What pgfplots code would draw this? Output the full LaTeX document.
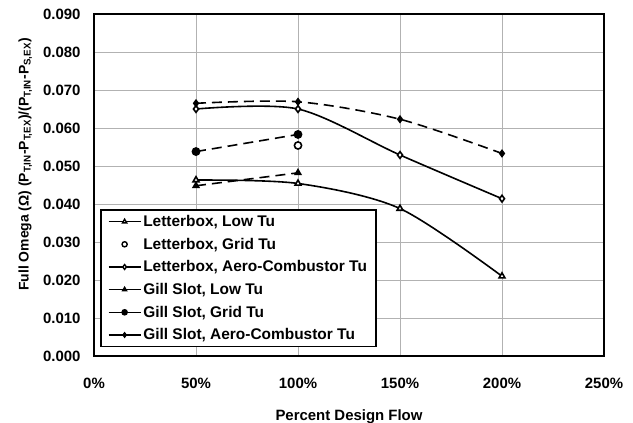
\documentclass[border=0pt]{standalone}
\usepackage{pgfplots}
\pgfplotsset{compat=1.18}
\usepackage{fontspec}
\setmainfont{Liberation Sans}

\begin{document}
\begin{tikzpicture}[font=\fontsize{15}{18}\selectfont\bfseries]
\path[use as bounding box] (-94bp,-67bp) rectangle (539bp,356bp);
\begin{axis}[
  scale only axis,
  width=510bp, height=342bp,
  xmin=0, xmax=250, ymin=0, ymax=0.09,
  xtick={0,50,...,250},
  ytick={0,0.01,...,0.09},
  scaled y ticks=false,
  grid=major,
  major grid style={draw=black!30, line width=0.8bp},
  axis line style={line width=1.6bp},
  tick style={draw=none},
  /pgf/number format/assume math mode=true,
  xticklabel={\pgfmathprintnumber{\tick}\%},
  yticklabel style={/pgf/number format/fixed, /pgf/number format/fixed zerofill,
    /pgf/number format/precision=3, xshift=-10bp},
  xticklabel style={yshift=-19bp},
  xlabel={Percent Design Flow},
  ylabel={Full Omega (Ω) (P\textsubscript{T,IN}-P\textsubscript{T,EX})/(P\textsubscript{T,IN}-P\textsubscript{S,EX})},
  xlabel style={yshift=-14bp},
  ylabel style={at={(ticklabel cs:0.56)}, yshift=4bp, font=\fontsize{14}{17}\selectfont\bfseries},
  legend cell align=left,
  legend style={at={(rel axis cs:0.012,0.026)}, anchor=south west,
    draw=black, line width=1.6bp, fill=white,
    row sep=6bp, inner xsep=7bp, inner ysep=3bp,
    font=\fontsize{15.5}{18}\selectfont\bfseries},
  legend image code/.code={%
    \draw[mark repeat=2, mark phase=2, solid, every mark/.append style={scale=0.72}]
      plot coordinates {(0bp,0bp) (16bp,0bp) (32bp,0bp)};},
  legend image post style={line width=1.4bp},
  every axis plot/.append style={line width=1.6bp, black},
]
% Letterbox, Low Tu
\addplot[smooth, mark=triangle*, mark options={fill=white, solid, scale=1.7}]
  coordinates {(50,0.0463) (100,0.0454) (150,0.0388) (200,0.0210)};
\addlegendentry{Letterbox, Low Tu}
% Letterbox, Grid Tu
\addplot[only marks, mark=*, mark options={fill=white, scale=1.8}]
  coordinates {(100,0.0554)};
\addlegendentry{Letterbox, Grid Tu}
% Letterbox, Aero-Combustor Tu
\addplot[smooth, mark=diamond*, mark options={fill=white, solid, scale=1.7}]
  coordinates {(50,0.0650) (100,0.0650) (150,0.0529) (200,0.0414)};
\addlegendentry{Letterbox, Aero-Combustor Tu}
% Gill Slot, Low Tu
\addplot[smooth, dash pattern=on 10bp off 6bp, mark=triangle*, mark options={fill=black, solid, scale=1.6}]
  coordinates {(50,0.0448) (100,0.0482)};
\addlegendentry{Gill Slot, Low Tu}
% Gill Slot, Grid Tu
\addplot[smooth, dash pattern=on 10bp off 6bp, mark=*, mark options={fill=black, solid, scale=1.8}]
  coordinates {(50,0.0538) (100,0.0583)};
\addlegendentry{Gill Slot, Grid Tu}
% Gill Slot, Aero-Combustor Tu
\addplot[smooth, dash pattern=on 10bp off 6bp, mark=diamond*, mark options={fill=black, solid, scale=1.5}]
  coordinates {(50,0.0665) (100,0.0669) (150,0.0623) (200,0.0533)};
\addlegendentry{Gill Slot, Aero-Combustor Tu}
\end{axis}
\end{tikzpicture}
\end{document}
